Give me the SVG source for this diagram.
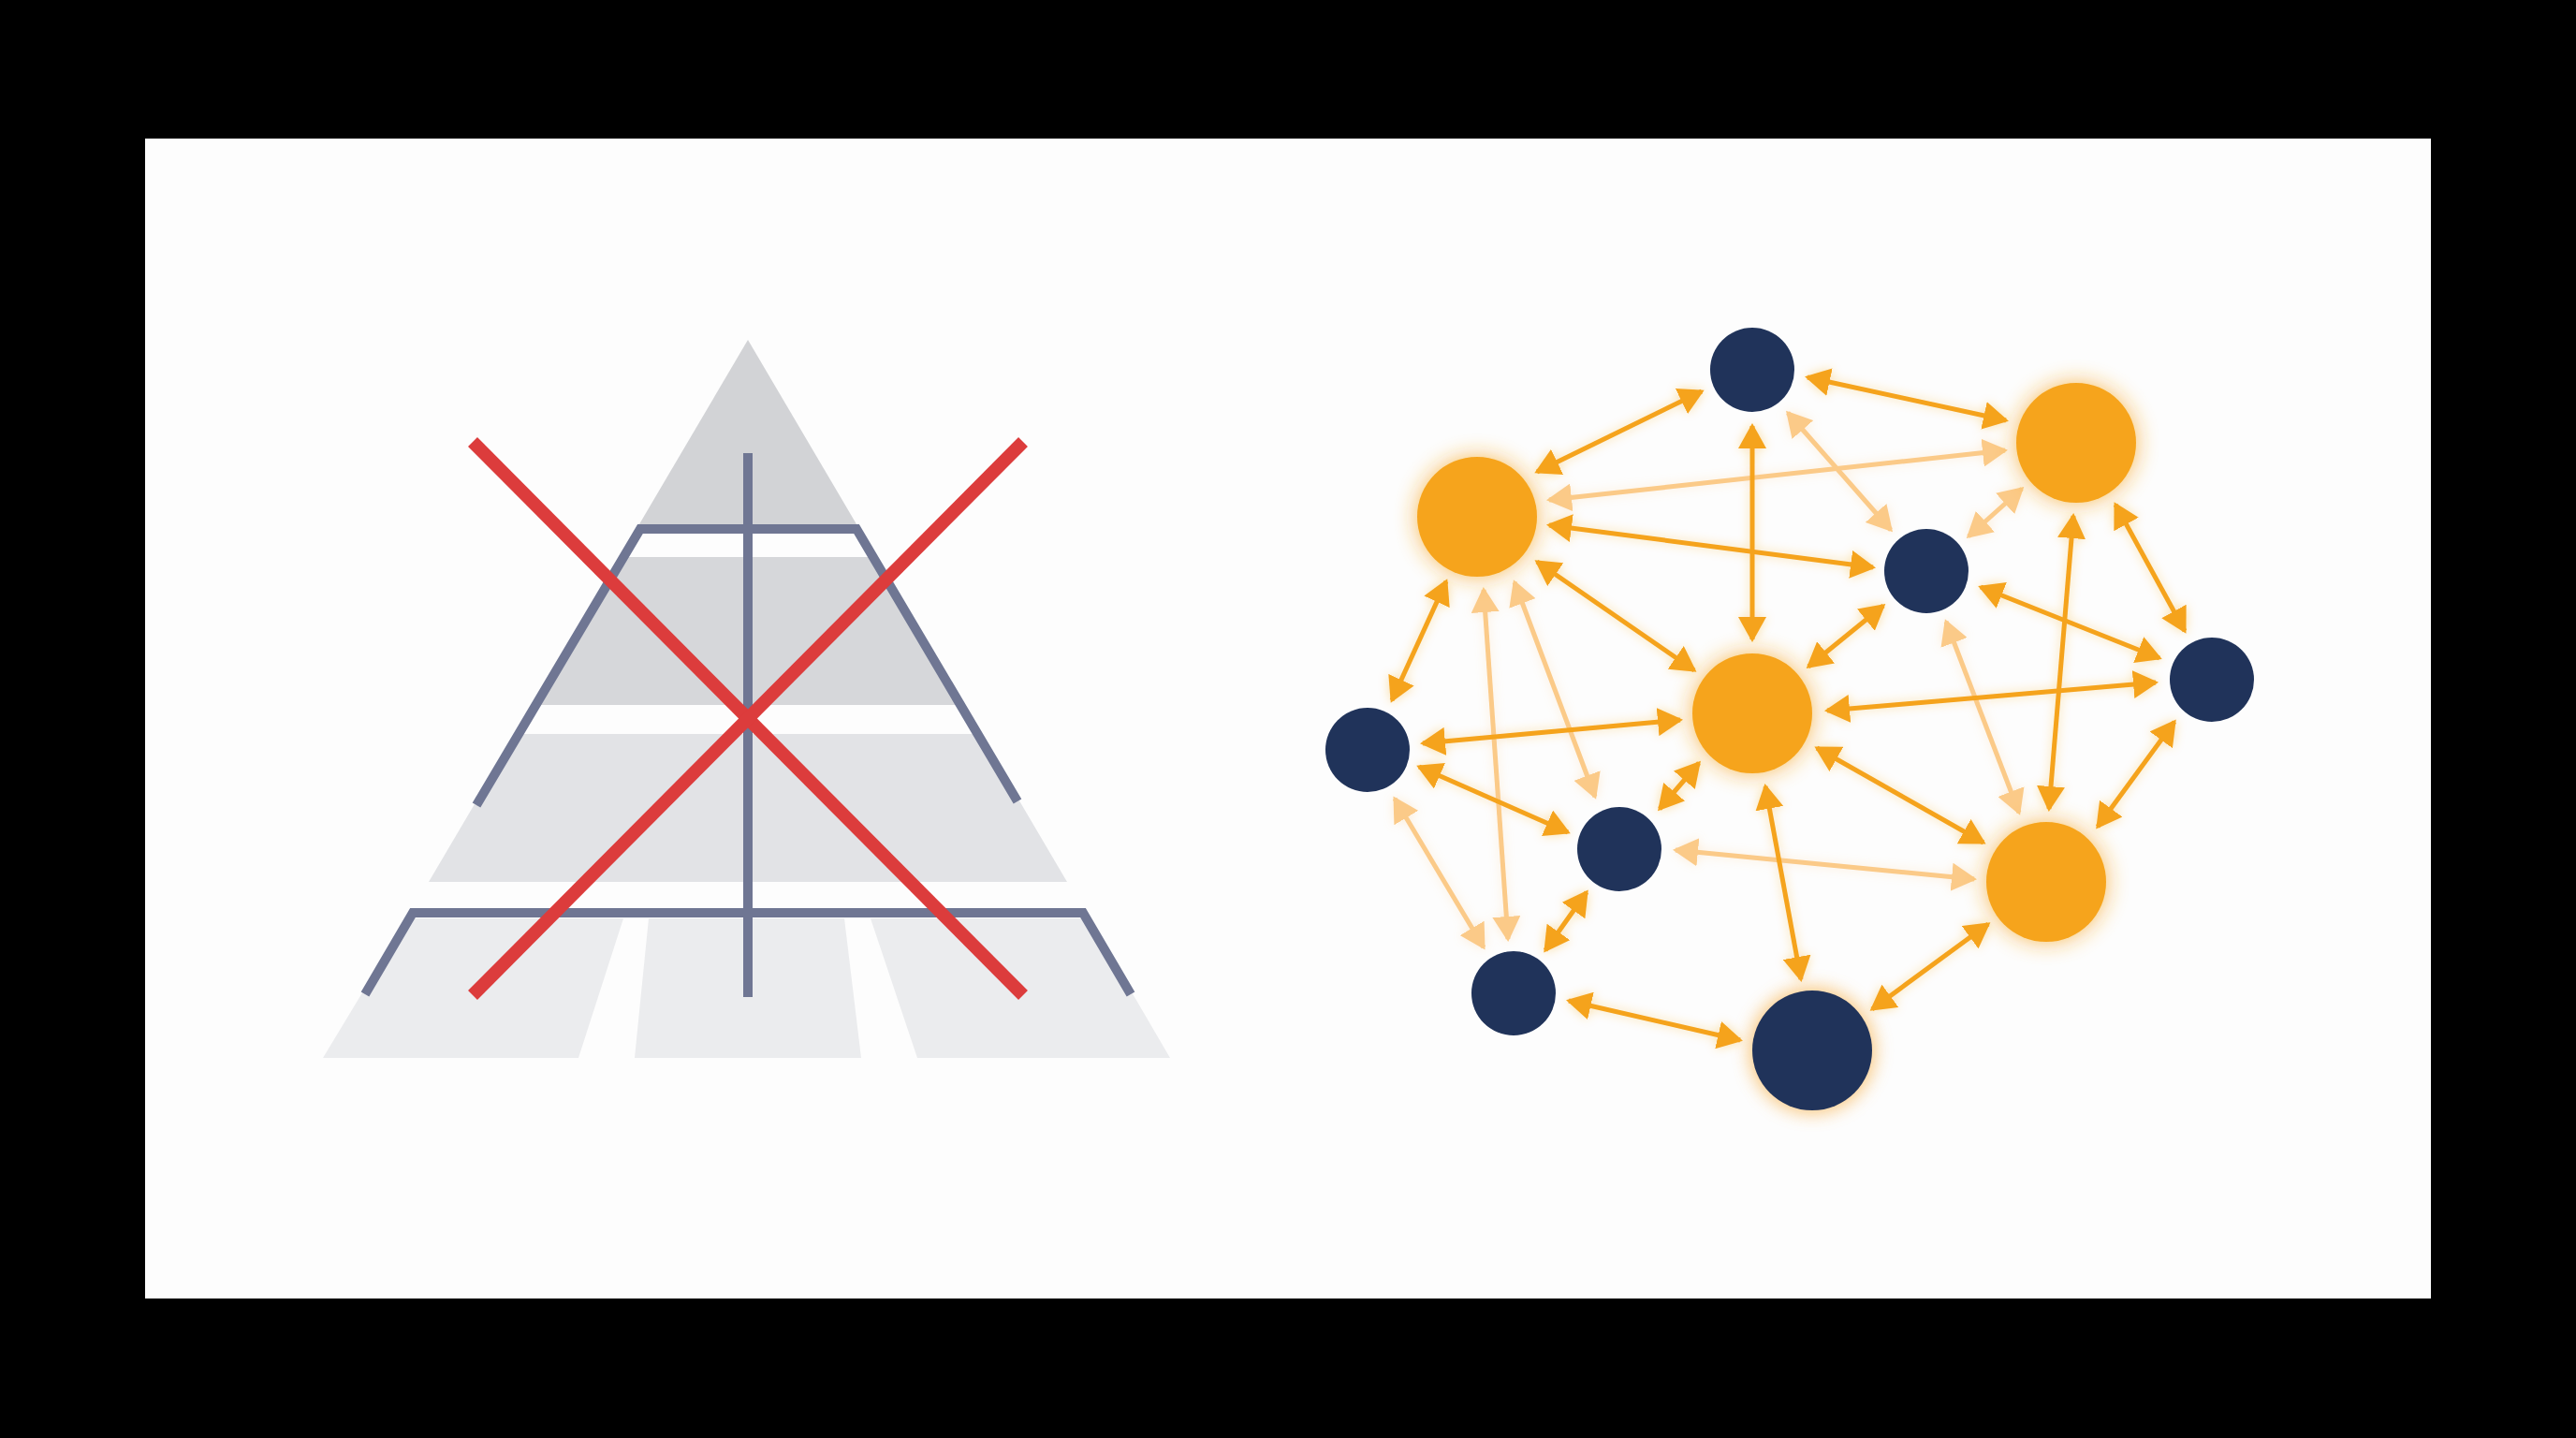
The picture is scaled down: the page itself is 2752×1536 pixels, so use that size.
<svg xmlns="http://www.w3.org/2000/svg" width="2752" height="1536" viewBox="0 0 2752 1536">
<defs>
<style>
.band1{fill:#d2d3d6}.band2{fill:#d6d7da}.band3{fill:#e2e3e6}.band4{fill:#ebecee}
.frame{fill:none;stroke:#6f7693;stroke-width:10;stroke-linejoin:miter}
.cross{stroke:#dc3c3c;stroke-width:14;stroke-linecap:butt}
.navy{fill:#20335a}
.orange{fill:#f6a41c}
.solid{stroke:#f5a31c;stroke-width:5;fill:none;marker-start:url(#hs);marker-end:url(#hs)}
.light{stroke:#fbca88;stroke-width:5;fill:none;marker-start:url(#hl);marker-end:url(#hl)}
</style>
<marker id="hs" viewBox="0 0 27 30" refX="24" refY="15" markerWidth="27" markerHeight="30" markerUnits="userSpaceOnUse" orient="auto-start-reverse"><path d="M0,0 L27,15 L0,30 z" fill="#f5a31c"/></marker>
<marker id="hl" viewBox="0 0 27 30" refX="24" refY="15" markerWidth="27" markerHeight="30" markerUnits="userSpaceOnUse" orient="auto-start-reverse"><path d="M0,0 L27,15 L0,30 z" fill="#fbca88"/></marker>
<filter id="glow" x="-60%" y="-60%" width="220%" height="220%">
<feGaussianBlur in="SourceGraphic" stdDeviation="12" result="b"/>
<feComponentTransfer in="b" result="c"><feFuncA type="linear" slope="0.75"/></feComponentTransfer>
<feMerge><feMergeNode in="c"/><feMergeNode in="SourceGraphic"/></feMerge>
</filter>
<filter id="lglow" x="-20%" y="-20%" width="140%" height="140%">
<feGaussianBlur in="SourceGraphic" stdDeviation="6" result="b"/>
<feComponentTransfer in="b" result="c"><feFuncA type="linear" slope="0.35"/></feComponentTransfer>
<feMerge><feMergeNode in="c"/><feMergeNode in="SourceGraphic"/></feMerge>
</filter>
<filter id="halo" x="-50%" y="-50%" width="200%" height="200%"><feGaussianBlur stdDeviation="9"/></filter>
</defs>
<rect x="0" y="0" width="2752" height="1536" fill="#000"/>
<rect x="155" y="148" width="2442" height="1239" fill="#fdfdfd"/>

<g id="pyramid">
<polygon class="band1" points="799,363 918,565 680,565"/>
<polygon class="band2" points="662,595 936,595 1029,753 569,753"/>
<polygon class="band3" points="551,784 1047,784 1140,942 458,942"/>
<polygon class="band4" points="435,981 666,981 618,1130 345,1130"/>
<polygon class="band4" points="693,981 902,981 920,1130 678,1130"/>
<polygon class="band4" points="930,981 1163,981 1250,1130 980,1130"/>
<polyline class="frame" points="509,860 684,565 915,565 1087,856"/>
<polyline class="frame" points="390,1062 441,975 1157,975 1208,1062"/>
<line class="frame" x1="799" y1="484" x2="799" y2="1065"/>
<line class="cross" x1="505" y1="472" x2="1093" y2="1063"/>
<line class="cross" x1="1093" y1="472" x2="505" y2="1063"/>
</g>

<g id="connectors" filter="url(#lglow)">
<line class="light" x1="1655" y1="534" x2="2142" y2="481"/>
<line class="light" x1="1910" y1="441" x2="2020" y2="566"/>
<line class="light" x1="2160" y1="522" x2="2103" y2="573"/>
<line class="light" x1="1585" y1="630" x2="1611" y2="1003"/>
<line class="light" x1="1618" y1="622" x2="1704" y2="851"/>
<line class="light" x1="2079" y1="664" x2="2157" y2="868"/>
<line class="light" x1="1790" y1="908" x2="2109" y2="939"/>
<line class="light" x1="1490" y1="853" x2="1585" y2="1012"/>
<line class="solid" x1="1642" y1="504" x2="1818" y2="418"/>
<line class="solid" x1="1931" y1="403" x2="2143" y2="449"/>
<line class="solid" x1="1655" y1="561" x2="2001" y2="606"/>
<line class="solid" x1="1872" y1="455" x2="1872" y2="683"/>
<line class="solid" x1="1642" y1="600" x2="1810" y2="716"/>
<line class="solid" x1="1545" y1="621" x2="1487" y2="748"/>
<line class="solid" x1="2012" y1="647" x2="1932" y2="712"/>
<line class="solid" x1="2116" y1="627" x2="2307" y2="703"/>
<line class="solid" x1="2260" y1="539" x2="2334" y2="674"/>
<line class="solid" x1="2215" y1="551" x2="2189" y2="864"/>
<line class="solid" x1="1952" y1="759" x2="2303" y2="729"/>
<line class="solid" x1="1520" y1="794" x2="1795" y2="769"/>
<line class="solid" x1="1516" y1="819" x2="1675" y2="889"/>
<line class="solid" x1="1773" y1="864" x2="1815" y2="815"/>
<line class="solid" x1="1941" y1="799" x2="2119" y2="900"/>
<line class="solid" x1="2323" y1="771" x2="2241" y2="883"/>
<line class="solid" x1="1651" y1="1015" x2="1695" y2="953"/>
<line class="solid" x1="1886" y1="840" x2="1924" y2="1046"/>
<line class="solid" x1="1676" y1="1069" x2="1859" y2="1111"/>
<line class="solid" x1="2000" y1="1078" x2="2124" y2="987"/>
</g>

<g id="node-orange-left" filter="url(#glow)"><circle class="orange" cx="1578" cy="552" r="64"/></g>
<g id="node-orange-topright" filter="url(#glow)"><circle class="orange" cx="2218" cy="473" r="64"/></g>
<g id="node-orange-center" filter="url(#glow)"><circle class="orange" cx="1872" cy="762" r="64"/></g>
<g id="node-orange-bottomright" filter="url(#glow)"><circle class="orange" cx="2186" cy="942" r="64"/></g>
<g id="node-navy-top"><circle class="navy" cx="1872" cy="395" r="45"/></g>
<g id="node-navy-midright"><circle class="navy" cx="2058" cy="610" r="45"/></g>
<g id="node-navy-right"><circle class="navy" cx="2363" cy="726" r="45"/></g>
<g id="node-navy-left"><circle class="navy" cx="1461" cy="801" r="45"/></g>
<g id="node-navy-centerlow"><circle class="navy" cx="1730" cy="907" r="45"/></g>
<g id="node-navy-bottomleft"><circle class="navy" cx="1617" cy="1061" r="45"/></g>
<g id="node-navy-bottom"><circle cx="1936" cy="1122" r="68" fill="#f8b555" opacity="0.7" filter="url(#halo)"/><circle class="navy" cx="1936" cy="1122" r="64"/></g>
</svg>
